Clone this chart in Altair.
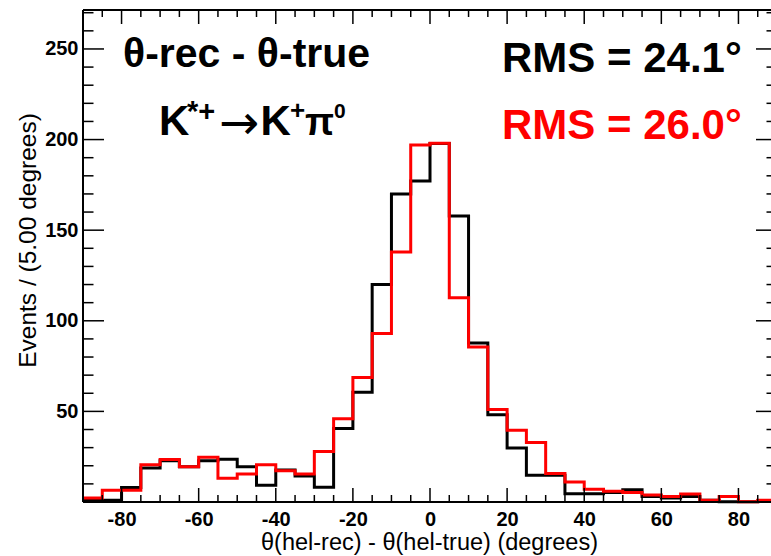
import altair as alt
import pandas as pd

# ---------------- data ----------------
EDGES = list(range(-90, 90, 5))  # lower bin edges, 5-degree bins
BLACK = [1, 1, 8, 18.7, 22.8, 19.5, 22.8, 23.6, 19.5, 9.2, 17.6, 14.4,
         8.2, 40.6, 60.5, 120.0, 169.9, 177.1, 197.9, 157.8, 87.8, 48.2,
         29.8, 14.7, 14.7, 4.6, 4.6, 5.3, 6.8, 3.1, 2.2, 3.1, 0.9, 0.2, 0.2, 0.5]
RED = [2.2, 6.5, 6.5, 20.6, 23.4, 19.5, 24.7, 13.1, 15.4, 20.6, 17.2, 15.4,
       27.9, 45.9, 68.7, 93.0, 138.0, 197.0, 198.0, 112.7, 85.6, 51.0,
       39.6, 32.8, 15.7, 11.0, 7.0, 5.9, 5.3, 3.9, 3.1, 4.4, 1.0, 3.1, 0.2, 0.9]

X_LABELS = [-80, -60, -40, -20, 0, 20, 40, 60, 80]
X_MINOR = [v for v in range(-85, 90, 5) if v not in X_LABELS]
Y_LABELS = [50, 100, 150, 200, 250]
Y_MINOR = [v for v in range(10, 271, 10) if v not in Y_LABELS]

TITLE_TEXT = "θ-rec - θ-true"
RMS_BLACK = "RMS = 24.1°"
RMS_RED = "RMS = 26.0°"
X_TITLE = "θ(hel-rec) - θ(hel-true) (degrees)"
Y_TITLE = "Events / (5.00 degrees)"

# ---------------- layout ----------------
FONT = "Liberation Sans"
PAD_L, PAD_T = 83, 10
W, W_FULL, H = 688, 694, 492
XMIN, XMAX, YMAX = -90, 90, 271.5

xs = alt.Scale(domain=[XMIN, XMAX], range=[0, W_FULL], nice=False, zero=False)
ys = alt.Scale(domain=[0, YMAX], nice=False, zero=True)


def step_df(vals):
    return pd.DataFrame({"x": EDGES + [XMAX], "n": list(vals) + [vals[-1]]})


x_axis = alt.Axis(values=X_LABELS, labelExpr="'' + datum.value", labelFont=FONT,
                  labelFontSize=20, labelFontWeight="bold", labelColor="black",
                  labelPadding=23, labelBaseline="alphabetic", ticks=False, tickSize=0,
                  domain=False, grid=False, labelOverlap=False, labelFlush=False,
                  title=X_TITLE, titleFont=FONT, titleFontSize=23.5,
                  titleFontWeight="normal", titleColor="black", titleX=346,
                  titleY=47.5, titleAlign="center", titleBaseline="alphabetic")
y_axis = alt.Axis(values=Y_LABELS, labelFont=FONT, labelFontSize=20,
                  labelFontWeight="bold", labelColor="black", labelPadding=5,
                  ticks=False, tickSize=0, domain=False, grid=False,
                  title=Y_TITLE, titleFont=FONT, titleFontSize=24.5,
                  titleFontWeight="normal", titleColor="black", titleAngle=270,
                  titleX=-48, titleY=230, titleAlign="center",
                  titleBaseline="alphabetic")

black_line = alt.Chart(step_df(BLACK)).mark_line(
    interpolate="step-after", color="black", strokeWidth=3
).encode(x=alt.X("x:Q", scale=xs, axis=x_axis), y=alt.Y("n:Q", scale=ys, axis=y_axis))

red_line = alt.Chart(step_df(RED)).mark_line(
    interpolate="step-after", color="#ff0000", strokeWidth=3
).encode(x=alt.X("x:Q", scale=xs, axis=x_axis), y=alt.Y("n:Q", scale=ys, axis=y_axis))


def xticks(vals, length, top):
    df = pd.DataFrame({"v": vals})
    if top:
        yy, yy2 = alt.value(0), alt.value(length)
    else:
        yy, yy2 = alt.value(H), alt.value(H - length)
    return alt.Chart(df).mark_rule(color="black", strokeWidth=1.5).encode(
        x=alt.X("v:Q", scale=xs, axis=x_axis), y=yy, y2=yy2)


def yticks(vals, length, right):
    df = pd.DataFrame({"v": vals})
    if right:
        xx, xx2 = alt.value(W_FULL), alt.value(W_FULL - length)
    else:
        xx, xx2 = alt.value(0), alt.value(length)
    return alt.Chart(df).mark_rule(color="black", strokeWidth=1.5).encode(
        y=alt.Y("v:Q", scale=ys, axis=y_axis), x=xx, x2=xx2)


ONE = pd.DataFrame({"k": [0]})


def frame(**enc):
    return alt.Chart(ONE).mark_rule(color="black", strokeWidth=2).encode(**enc)


frames = [
    frame(x=alt.value(0), y=alt.value(0), y2=alt.value(H)),
    frame(x=alt.value(0), x2=alt.value(W_FULL), y=alt.value(0)),
    frame(x=alt.value(0), x2=alt.value(W_FULL), y=alt.value(H)),
]


def txt(s, px, py, size, color="black", font=FONT, weight="bold"):
    return alt.Chart(ONE).mark_text(
        text=s, align="left", baseline="alphabetic", font=font, fontSize=size,
        fontWeight=weight, color=color
    ).encode(x=alt.value(px - PAD_L), y=alt.value(py - PAD_T))


texts = [
    txt(TITLE_TEXT, 123, 66.7, 41),
    txt(RMS_BLACK, 502, 71.7, 42),
    txt(RMS_RED, 502, 139.3, 42, "#ff0000"),
    txt("K", 159, 135, 42),
    txt("*+", 187, 120.5, 29),
    txt("→", 219, 139, 48, font="DejaVu Sans", weight="normal"),
    txt("K", 260.5, 135, 42),
    txt("+", 290, 119, 26),
    txt("π", 305, 135, 38),
    txt("0", 334, 118.3, 21),
]

ticks = [
    xticks(X_LABELS, 14, False), xticks(X_MINOR, 7, False),
    xticks(X_LABELS, 14, True), xticks(X_MINOR, 7, True),
    yticks(Y_LABELS, 21, False), yticks(Y_MINOR, 10.5, False),
    yticks(Y_LABELS, 21, True), yticks(Y_MINOR, 10.5, True),
]

chart = alt.layer(black_line, red_line, *ticks, *frames, *texts).properties(
    width=W, height=H,
    padding={"left": PAD_L, "top": PAD_T, "right": 0, "bottom": 556 - PAD_T - H},
    autosize=alt.AutoSizeParams(type="none"),
    background="white",
).configure_view(stroke=None)

chart.save("out.html", embed_options={"renderer": "svg", "actions": False})
